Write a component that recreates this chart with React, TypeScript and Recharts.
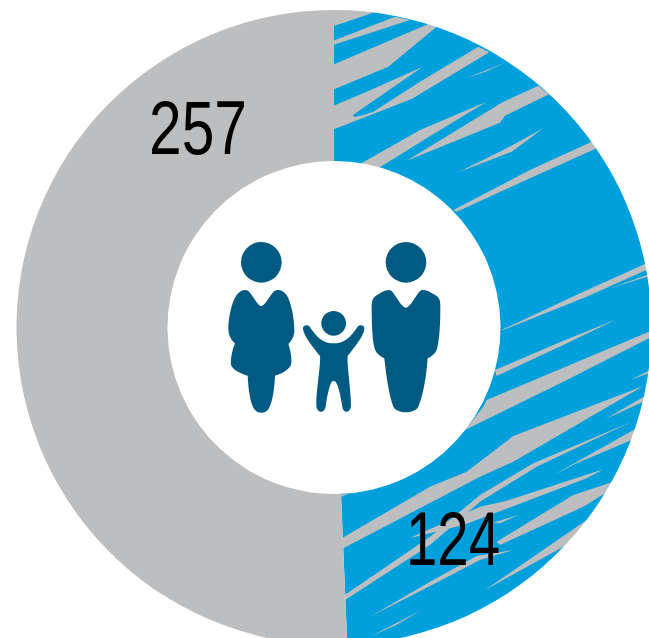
import { PieChart, Pie, Cell } from "recharts";

// share of the ring each group takes in the drawing
const groupNames = ["Blue group", "Grey group"];
const arcShares = [177.6, 182.4];
const groupLabels = ["124", "257"];
const groupColors = ["url(#streaked)", "#BCBEC0"];

const pieData = groupNames.map((name, i) => ({
  name,
  value: arcShares[i],
  label: groupLabels[i],
}));

const GREY = "#BCBEC0";
const BLUE = "#00A0DC";
const ICON = "#005A82";

// brush marks, traced from the top right of the ring
const upperStreaks = [
  "0,30 125,30 125,40 12,78 0,82",
  "0,126 195,50 240,60 0,138",
  "0,198 295,72 320,80 175,200 0,273",
  "0,322 110,275 278,200 68,346 75,351 100,345 130,335 270,245 445,140 478,157 245,297 0,392",
  "405,235 465,212 530,186 465,216",
  "85,495 270,390 470,305 290,415 145,505",
  "230,482 520,305 625,257 657,283 525,347 510,368",
  "385,517 530,445 640,385 545,455",
  "370,630 600,510 785,425 800,445 600,535 380,635",
  "650,600 710,575 670,592",
];

// same for the lower right
const lowerStreaks = [
  "515,240 750,130 950,40 960,55 770,140 520,240",
  "840,115 960,72 960,78",
  "495,360 700,272 860,208 700,285 500,378",
  "470,450 957,245 957,265 700,395 405,540 460,470",
  "30,868 300,710 410,665 550,558 940,408 550,635 450,680 30,900",
  "30,1045 300,860 450,735 610,640 905,515 620,650 450,755 300,885 30,1060",
  "238,865 450,770 530,752 820,658 770,685 520,780 400,825",
  "670,675 920,535 905,570 740,640",
  "825,508 945,438 940,455",
  "900,390 957,362 957,370",
  "500,875 730,735 845,697 825,730 760,770 510,885",
  "490,818 570,793 510,820",
  "465,1020 770,810 790,830 700,890",
  "120,1100 300,995 440,918 550,900 450,930 300,1008",
  "120,1160 275,1080 200,1124",
  "30,735 60,728 35,740",
];

const labelSpots = [
  { x: 453, y: 538 },
  { x: 198, y: 127 },
];
const labelWidths = [94, 98];

const renderLabel = ({ index }: { index: number }) => (
  <text
    key={index}
    x={labelSpots[index].x}
    y={labelSpots[index].y}
    textAnchor="middle"
    dominantBaseline="central"
    fontFamily='"Liberation Sans", sans-serif'
    fontSize={76}
    textLength={labelWidths[index]}
    lengthAdjust="spacingAndGlyphs"
    fill="#000"
  >
    {groupLabels[index]}
  </text>
);

const Family = () => (
  <g transform="translate(215,230) scale(0.3333)" fill={ICON}>
    <circle cx={139} cy={97} r={61} />
    <circle cx={573} cy={97} r={61} />
    <circle cx={356} cy={280} r={37} />
    <path d="M139,228 C150,228 165,195 178,183 C190,176 205,182 215,195 C228,215 238,265 238,300 C238,320 230,332 220,342 C226,360 232,385 228,405 C220,422 195,433 180,437 C178,480 172,520 160,538 C150,552 128,552 118,538 C106,520 100,480 98,437 C80,432 55,422 48,405 C46,385 52,360 60,340 C48,330 40,315 40,295 C40,265 50,215 65,195 C75,182 90,176 100,183 C113,195 128,228 139,228 Z" />
    <path d="M573,233 C585,233 600,200 615,183 C625,176 640,182 665,198 C675,205 677,215 676,240 C676,290 672,340 665,360 C660,372 648,380 638,385 C634,440 625,495 610,530 C600,552 545,552 535,530 C522,495 514,440 508,385 C497,380 485,372 480,358 C473,340 470,290 470,235 C470,215 472,205 482,198 C505,182 520,176 530,183 C545,200 560,233 573,233 Z" />
    <path d="M356,340 C385,340 405,325 428,290 C435,282 450,285 448,298 C445,320 420,350 398,378 C395,400 408,480 408,525 C408,550 385,552 382,530 C378,505 372,470 362,455 C358,452 354,452 350,455 C342,470 335,505 332,530 C328,552 304,550 304,525 C304,480 318,400 315,378 C292,350 268,320 264,298 C262,285 277,282 284,290 C307,325 327,340 356,340 Z" />
  </g>
);

export default function App() {
  return (
    <div style={{ position: "absolute", left: 0, top: 0, width: 649, height: 638, overflow: "hidden" }}>
      <PieChart width={649} height={638} margin={{ top: 0, right: 0, bottom: 0, left: 0 }}>
        <defs>
          <pattern id="streaked" patternUnits="userSpaceOnUse" x={0} y={0} width={649} height={638}>
            <rect width={649} height={638} fill={BLUE} />
            <g transform="translate(330,0) scale(0.3333)" fill={GREY}>
              {upperStreaks.map((points) => (
                <polygon key={points} points={points} />
              ))}
            </g>
            <g transform="translate(330,250) scale(0.3333)" fill={GREY}>
              {lowerStreaks.map((points) => (
                <polygon key={points} points={points} />
              ))}
            </g>
          </pattern>
        </defs>
        <Pie
          data={pieData}
          dataKey="value"
          nameKey="name"
          cx={334}
          cy={327.5}
          innerRadius={166.5}
          outerRadius={317.5}
          startAngle={90}
          endAngle={-270}
          stroke="none"
          label={renderLabel}
          labelLine={false}
          isAnimationActive={false}
        >
          {pieData.map((d, i) => (
            <Cell key={d.name} fill={groupColors[i]} />
          ))}
        </Pie>
        <Family />
      </PieChart>
    </div>
  );
}
